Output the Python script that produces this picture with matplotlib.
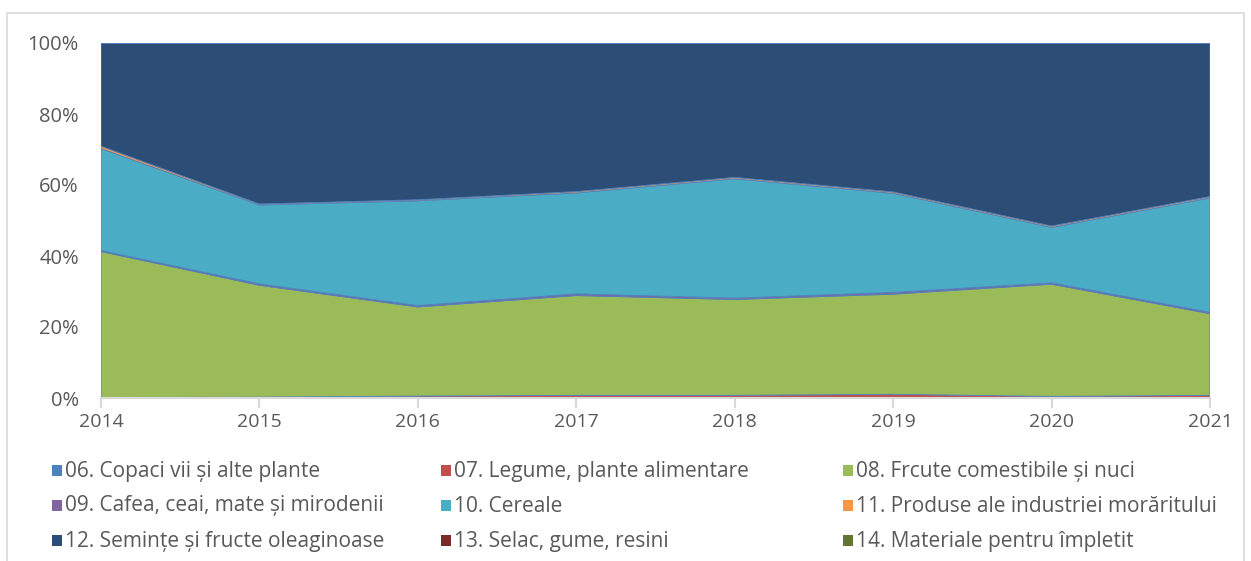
import matplotlib
matplotlib.use("Agg")
import matplotlib.pyplot as plt
import numpy as np
from matplotlib.patches import Rectangle

years = [2014, 2015, 2016, 2017, 2018, 2019, 2020, 2021]
labels = [
    "06. Copaci vii și alte plante",
    "07. Legume, plante alimentare",
    "08. Frcute comestibile și nuci",
    "09. Cafea, ceai, mate și mirodenii",
    "10. Cereale",
    "11. Produse ale industriei morăritului",
    "12. Semințe și fructe oleaginoase",
    "13. Selac, gume, resini",
    "14. Materiale pentru împletit",
]
s06 = [0.05, 0.05, 0.05, 0.05, 0.05, 0.05, 0.05, 0.05]
s07 = [0.1, 0.2, 0.5, 0.7, 0.7, 1.0, 0.4, 0.7]
s08 = [41.1, 31.5, 25.1, 28.1, 27.0, 28.2, 31.6, 23.0]
s09 = [0.3, 0.4, 0.4, 0.5, 0.4, 0.5, 0.4, 0.4]
s10 = [28.7, 22.2, 29.5, 28.4, 33.6, 27.9, 15.6, 32.2]
s11 = [0.7, 0.3, 0.3, 0.4, 0.4, 0.4, 0.4, 0.4]
s12 = [29.0, 45.3, 44.1, 41.8, 37.8, 41.9, 51.5, 43.2]
s13 = [0.03, 0.03, 0.03, 0.03, 0.03, 0.03, 0.03, 0.03]
s14 = [0.02, 0.02, 0.02, 0.02, 0.02, 0.02, 0.02, 0.02]

colors = ["#4F81BD", "#C0504D", "#9BBB59", "#8064A2", "#4BACC6",
          "#F79646", "#2C4D75", "#772C2A", "#5F7530"]

series = np.array([s06, s07, s08, s09, s10, s11, s12, s13, s14], dtype=float)
pct = series / series.sum(axis=0) * 100

plt.rcParams['font.family'] = ['Open Sans', 'DejaVu Sans']

fig = plt.figure(figsize=(12.51, 5.61), dpi=100)
W, H = 1251, 561
ax = fig.add_axes([101 / W, 1 - 398 / H, (1210 - 101) / W, (398 - 43) / H])

ax.stackplot(years, pct, colors=colors, linewidth=0.6,
             edgecolors=colors)
ax.set_xlim(2014, 2021)
ax.set_ylim(0, 100)
ax.set_yticks([0, 20, 40, 60, 80, 100])
ax.set_yticklabels([f"{v}%" for v in [0, 20, 40, 60, 80, 100]])
ax.set_xticks(years)
ax.set_xticklabels([str(y) for y in years])
for sp in ["top", "right", "left"]:
    ax.spines[sp].set_visible(False)
ax.spines["bottom"].set_color("#D9D9D9")
ax.spines["bottom"].set_linewidth(1.5)
ax.tick_params(axis="y", length=0, pad=16, labelsize=14.5, labelcolor="#595959")
ax.tick_params(axis="x", length=7, width=1.5, color="#D9D9D9", direction="out",
               pad=4, labelsize=14, labelcolor="#595959")

# outer border
fig.patches.append(Rectangle((7 / W, -0.1), (1244 - 7) / W, 1 - 13 / H + 0.1,
                             transform=fig.transFigure, fill=False,
                             edgecolor="#D9D9D9", linewidth=1.2))

# legend (manual grid, row-major)
col_x = [52, 441, 843]
row_y = [471, 506, 541]
for i, (lab, c) in enumerate(zip(labels, colors)):
    r, cidx = divmod(i, 3)
    x = col_x[cidx]
    y = row_y[r]
    fig.patches.append(Rectangle((x / W, 1 - (y + 5) / H), 10 / W, 11 / H,
                                 transform=fig.transFigure, facecolor=c,
                                 edgecolor="none"))
    fig.text((x + 13) / W, 1 - y / H, lab, fontsize=15, color="#595959",
             va="center", ha="left")

fig.savefig("out.png", dpi=100)
